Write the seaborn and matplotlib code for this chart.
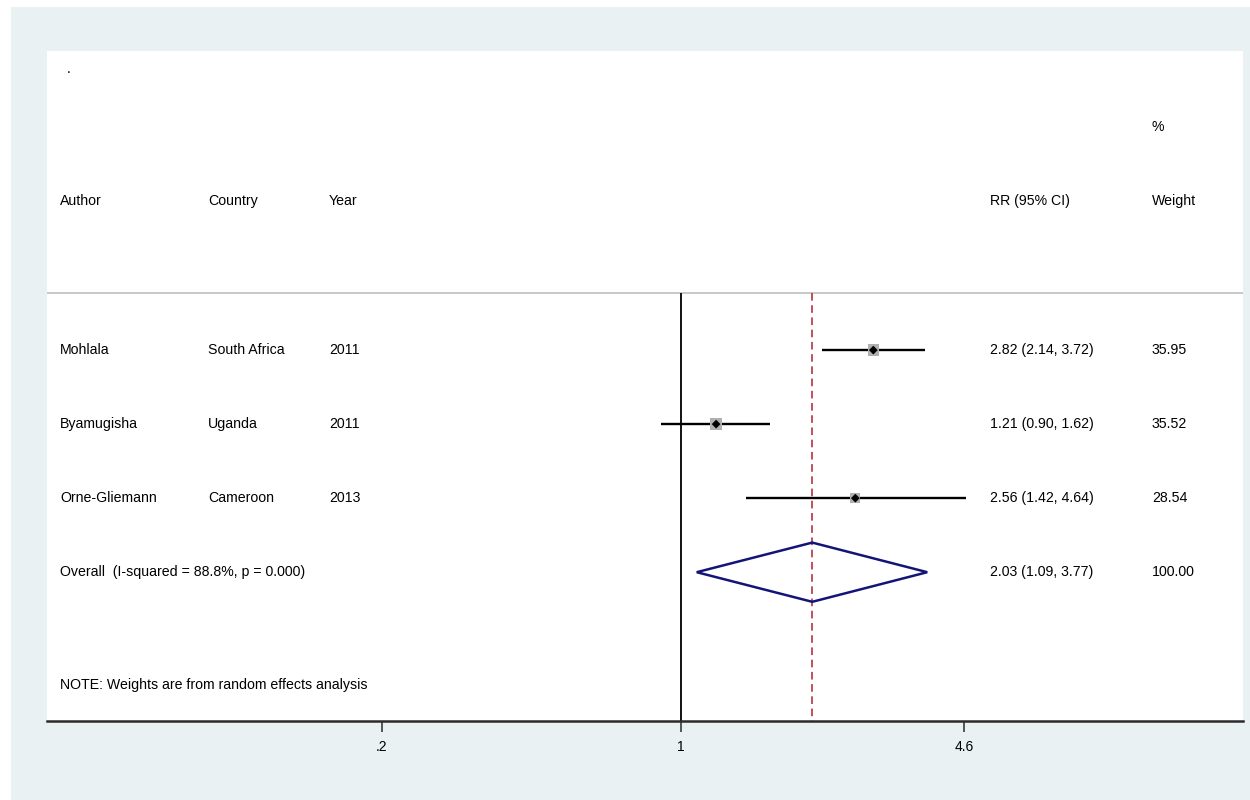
import numpy as np
import pandas as pd
import matplotlib
matplotlib.use("Agg")
import matplotlib.pyplot as plt
import matplotlib.transforms as mtransforms
from matplotlib.patches import Rectangle, Polygon
import seaborn as sns

# ---------------- data ----------------
authors = ["Mohlala", "Byamugisha", "Orne-Gliemann"]
countries = ["South Africa", "Uganda", "Cameroon"]
years = ["2011", "2011", "2013"]
rr = [2.82, 1.21, 2.56]
rr_lo = [2.14, 0.90, 1.42]
rr_hi = [3.72, 1.62, 4.64]
weights = [35.95, 35.52, 28.54]
overall_rr = 2.03
overall_lo = 1.09
overall_hi = 3.77
overall_weight = 100.00
i_squared = 88.8
p_value = 0.000
xtick_values = [0.2, 1, 4.6]
xtick_labels = [".2", "1", "4.6"]
note_text = "NOTE: Weights are from random effects analysis"

# ---------------- style ----------------
sns.set_theme(style="white")
plt.rcParams["font.family"] = ["Liberation Sans", "DejaVu Sans"]

W, H = 1250, 800
fig = plt.figure(figsize=(W / 100, H / 100), dpi=100)
fig.patch.set_facecolor("white")
fig.patches.append(Rectangle((11 / W, 0), 1 - 11 / W, 793 / H, transform=fig.transFigure,
                             facecolor="#E9F1F3", edgecolor="none", zorder=-10))

ax = fig.add_axes([47 / W, 79 / H, 1196 / W, 670 / H])
ax.set_facecolor("white")
ax.set_xscale("log")
ax.set_xlim(0.0330, 20.63)
ax.set_ylim(5.01, -4.04)

rows = list(range(len(authors)))
overall_row = len(authors)
sep_y = -0.77
ymax = 5.01

df = pd.DataFrame({"rr": rr, "lo": rr_lo, "hi": rr_hi, "row": rows, "weight": weights})

# reference lines
ax.vlines(1, sep_y, ymax, color="black", lw=1.3, zorder=2)
ax.vlines(overall_rr, sep_y, ymax, color="#B02030", lw=1.1, linestyles=(0, (5, 3)), zorder=2)
ax.axhline(sep_y, color="#C4C4C4", lw=1.3, zorder=1)

# CI lines
ax.hlines(df["row"], df["lo"], df["hi"], color="black", lw=1.7, zorder=3)

# weight boxes (area proportional to weight)
base_area = 68.0
size_map = {w: base_area * w / max(weights) for w in weights}
sns.scatterplot(data=df, x="rr", y="row", size="weight", sizes=size_map, marker="s",
                color="#B0B0B0", edgecolor="none", legend=False, ax=ax, zorder=4)
# point estimates
sns.scatterplot(data=df, x="rr", y="row", marker="D", color="black", s=20,
                edgecolor="none", legend=False, ax=ax, zorder=5)

# overall diamond
diamond = Polygon([(overall_lo, overall_row), (overall_rr, overall_row - 0.4),
                   (overall_hi, overall_row), (overall_rr, overall_row + 0.4)],
                  closed=True, fill=False, edgecolor="#141478", lw=1.8, zorder=6)
ax.add_patch(diamond)

# axes styling
for s in ["left", "right", "top"]:
    ax.spines[s].set_visible(False)
ax.spines["bottom"].set_color("#2B2B2B")
ax.spines["bottom"].set_linewidth(1.8)
ax.set_yticks([])
ax.set_xticks(xtick_values)
ax.set_xticklabels(xtick_labels)
ax.minorticks_off()
ax.tick_params(axis="x", which="major", bottom=True, length=8, width=1.1, color="#2B2B2B",
               pad=6, labelsize=10, labelcolor="black")
ax.set_xlabel("")
ax.set_ylabel("")

# text columns
tr = mtransforms.blended_transform_factory(ax.transAxes, ax.transData)
fs = 10.2
x_author, x_country, x_year, x_rr, x_weight = 0.0109, 0.1346, 0.2358, 0.7885, 0.9239
hdr_y = -2.01
txt = dict(transform=tr, fontsize=fs, va="center", ha="left", color="black")

ax.text(0.0167, -3.80, ".", **txt)
ax.text(x_weight, -3.01, "%", **txt)
ax.text(x_author, hdr_y, "Author", **txt)
ax.text(x_country, hdr_y, "Country", **txt)
ax.text(x_year, hdr_y, "Year", **txt)
ax.text(x_rr, hdr_y, "RR (95% CI)", **txt)
ax.text(x_weight, hdr_y, "Weight", **txt)

for r, a, c, y, e, l, h, w in zip(rows, authors, countries, years, rr, rr_lo, rr_hi, weights):
    ax.text(x_author, r, a, **txt)
    ax.text(x_country, r, c, **txt)
    ax.text(x_year, r, y, **txt)
    ax.text(x_rr, r, f"{e:.2f} ({l:.2f}, {h:.2f})", **txt)
    ax.text(x_weight, r, f"{w:.2f}", **txt)

ax.text(x_author, overall_row, f"Overall  (I-squared = {i_squared:.1f}%, p = {p_value:.3f})", **txt)
ax.text(x_rr, overall_row, f"{overall_rr:.2f} ({overall_lo:.2f}, {overall_hi:.2f})", **txt)
ax.text(x_weight, overall_row, f"{overall_weight:.2f}", **txt)
ax.text(x_author, 4.53, note_text, **txt)

fig.savefig("out.png", dpi=100)
